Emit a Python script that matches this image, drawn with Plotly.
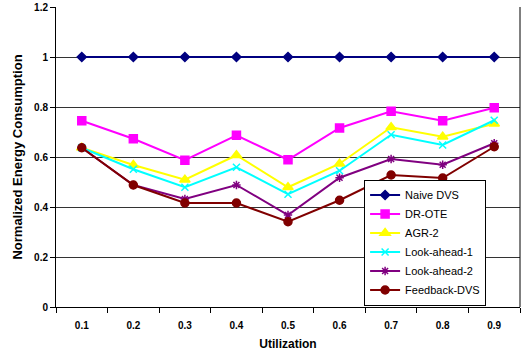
import plotly.graph_objects as go

# Utilization levels (x categories)
utilization = ["0.1", "0.2", "0.3", "0.4", "0.5", "0.6", "0.7", "0.8", "0.9"]

# Normalized energy consumption per scheme
naive_dvs = [1.0, 1.0, 1.0, 1.0, 1.0, 1.0, 1.0, 1.0, 1.0]
dr_ote = [0.745, 0.673, 0.587, 0.687, 0.589, 0.716, 0.783, 0.745, 0.797]
agr_2 = [0.637, 0.568, 0.509, 0.607, 0.479, 0.573, 0.719, 0.681, 0.733]
look_ahead_1 = [0.637, 0.551, 0.479, 0.559, 0.451, 0.545, 0.689, 0.648, 0.747]
look_ahead_2 = [0.637, 0.488, 0.432, 0.488, 0.368, 0.517, 0.592, 0.569, 0.655]
feedback_dvs = [0.637, 0.488, 0.416, 0.416, 0.341, 0.427, 0.528, 0.516, 0.641]

series = [
    ("Naive DVS", naive_dvs, "#000080", "diamond", 7),
    ("DR-OTE", dr_ote, "#FF00FF", "square", 8),
    ("AGR-2", agr_2, "#FFFF00", "triangle-up", 9),
    ("Look-ahead-1", look_ahead_1, "#00FFFF", "x-thin-open", 7),
    ("Look-ahead-2", look_ahead_2, "#800080", "asterisk-open", 7),
    ("Feedback-DVS", feedback_dvs, "#800000", "circle", 8),
]

FONT = "Liberation Sans, Arial, sans-serif"

fig = go.Figure()
for name, vals, color, symbol, size in series:
    fig.add_trace(go.Scatter(
        x=utilization, y=vals, name=name, mode="lines+markers",
        line=dict(color=color, width=2),
        marker=dict(symbol=symbol, size=size, color=color,
                    line=dict(color=color, width=1.5)),
    ))

fig.update_layout(
    width=521, height=354,
    margin=dict(l=56, r=1, t=7, b=47),
    paper_bgcolor="white", plot_bgcolor="white",
    font=dict(family=FONT, color="black"),
    showlegend=True,
    legend=dict(
        x=0.664, y=0.425, xanchor="left", yanchor="top",
        bgcolor="white", bordercolor="black", borderwidth=1,
        font=dict(family=FONT, size=11, color="black"),
        itemwidth=30, tracegroupgap=0,
    ),
    xaxis=dict(
        type="category", tickson="boundaries",
        ticks="outside", ticklen=5, tickcolor="black",
        ticklabelstandoff=9,
        showgrid=False, showline=True, linecolor="black", linewidth=1,
        mirror=False, range=[-0.5, 8.5],
        tickfont=dict(family=FONT, size=10, weight="bold"),
        title=dict(text="Utilization", standoff=9,
                   font=dict(family=FONT, size=12, weight="bold")),
    ),
    yaxis=dict(
        range=[0, 1.2], dtick=0.2, tick0=0,
        ticks="outside", ticklen=5, tickcolor="black",
        showgrid=True, gridcolor="#333333", gridwidth=1,
        showline=True, linecolor="black", linewidth=1,
        zeroline=False,
        tickfont=dict(family=FONT, size=10, weight="bold"),
        title=dict(text="Normalized Energy Consumption", standoff=8,
                   font=dict(family=FONT, size=13, weight="bold")),
    ),
)

# right-hand frame edge
fig.add_shape(type="line", xref="paper", yref="paper",
              x0=1, x1=1, y0=0, y1=1, line=dict(color="black", width=1))

fig.write_html("out.html")
